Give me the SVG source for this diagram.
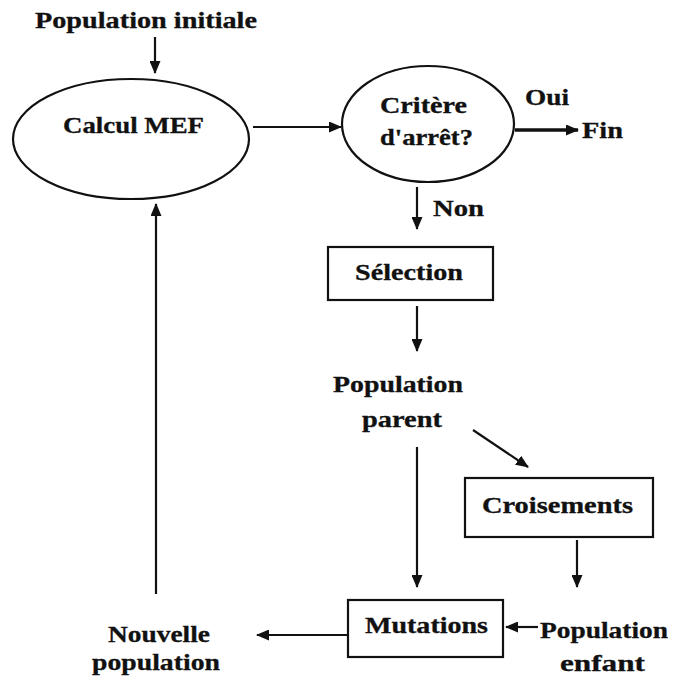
<svg xmlns="http://www.w3.org/2000/svg" width="673" height="682" viewBox="0 0 673 682">
  <style>
    .lbl { font-family: "Liberation Serif", "Times New Roman", serif; font-weight: bold; font-size: 23px; fill: #111; stroke: #111; stroke-width: 0.3; }
    .shape { fill: #fff; stroke: #111; stroke-width: 2.2; }
    .edge { fill: none; stroke: #111; stroke-width: 2.2; }
    .edge-thick { fill: none; stroke: #111; stroke-width: 3.4; }
  </style>
  <defs>
    <marker id="arrow" viewBox="0 0 13 11" refX="12" refY="5.5" markerUnits="userSpaceOnUse" markerWidth="13" markerHeight="11" orient="auto">
      <path d="M0,0 L13,5.5 L0,11 Z" fill="#111"/>
    </marker>
  </defs>
  <rect width="673" height="682" fill="#fff"/>

  <g id="connectors">
    <line class="edge" x1="155" y1="37" x2="155" y2="73" marker-end="url(#arrow)"/>
    <line class="edge" x1="253" y1="127" x2="341" y2="127" marker-end="url(#arrow)"/>
    <line class="edge-thick" x1="515" y1="130" x2="578" y2="130" marker-end="url(#arrow)"/>
    <line class="edge" x1="417" y1="187" x2="417" y2="229" marker-end="url(#arrow)"/>
    <line class="edge" x1="417" y1="306" x2="417" y2="351" marker-end="url(#arrow)"/>
    <line class="edge" x1="417" y1="447" x2="417" y2="587" marker-end="url(#arrow)"/>
    <line class="edge" x1="473" y1="430" x2="528" y2="467" marker-end="url(#arrow)"/>
    <line class="edge" x1="577" y1="540" x2="577" y2="587" marker-end="url(#arrow)"/>
    <line class="edge" x1="538" y1="627" x2="506" y2="627" marker-end="url(#arrow)"/>
    <line class="edge" x1="347" y1="635" x2="257" y2="635" marker-end="url(#arrow)"/>
    <line class="edge" x1="156" y1="594" x2="156" y2="204" marker-end="url(#arrow)"/>
  </g>

  <g id="population-initiale">
    <text class="lbl" x="35" y="28" textLength="222" lengthAdjust="spacingAndGlyphs">Population initiale</text>
  </g>

  <g id="calcul-mef">
    <ellipse class="shape" cx="131" cy="139" rx="118" ry="60"/>
    <text class="lbl" x="63" y="133" textLength="141" lengthAdjust="spacingAndGlyphs">Calcul MEF</text>
  </g>

  <g id="critere-arret">
    <ellipse class="shape" cx="428" cy="124" rx="86" ry="58"/>
    <text class="lbl" x="380" y="113" textLength="87" lengthAdjust="spacingAndGlyphs">Critère</text>
    <text class="lbl" x="380" y="145" textLength="93" lengthAdjust="spacingAndGlyphs">d'arrêt?</text>
  </g>

  <g id="oui">
    <text class="lbl" x="525" y="105" textLength="44" lengthAdjust="spacingAndGlyphs">Oui</text>
  </g>

  <g id="fin">
    <text class="lbl" x="582" y="138" textLength="41" lengthAdjust="spacingAndGlyphs">Fin</text>
  </g>

  <g id="non">
    <text class="lbl" x="433" y="216" textLength="51" lengthAdjust="spacingAndGlyphs">Non</text>
  </g>

  <g id="selection">
    <rect class="shape" x="328" y="247" width="165" height="53"/>
    <text class="lbl" x="355" y="280" textLength="108" lengthAdjust="spacingAndGlyphs">Sélection</text>
  </g>

  <g id="population-parent">
    <text class="lbl" x="333" y="392" textLength="130" lengthAdjust="spacingAndGlyphs">Population</text>
    <text class="lbl" x="362" y="427" textLength="80" lengthAdjust="spacingAndGlyphs">parent</text>
  </g>

  <g id="croisements">
    <rect class="shape" x="465" y="478" width="188" height="59"/>
    <text class="lbl" x="482" y="513" textLength="151" lengthAdjust="spacingAndGlyphs">Croisements</text>
  </g>

  <g id="mutations">
    <rect class="shape" x="348" y="600" width="155" height="57"/>
    <text class="lbl" x="365" y="633" textLength="123" lengthAdjust="spacingAndGlyphs">Mutations</text>
  </g>

  <g id="population-enfant">
    <text class="lbl" x="540" y="638" textLength="128" lengthAdjust="spacingAndGlyphs">Population</text>
    <text class="lbl" x="560" y="671" textLength="85" lengthAdjust="spacingAndGlyphs">enfant</text>
  </g>

  <g id="nouvelle-population">
    <text class="lbl" x="108" y="642" textLength="102" lengthAdjust="spacingAndGlyphs">Nouvelle</text>
    <text class="lbl" x="92" y="670" textLength="128" lengthAdjust="spacingAndGlyphs">population</text>
  </g>
</svg>
